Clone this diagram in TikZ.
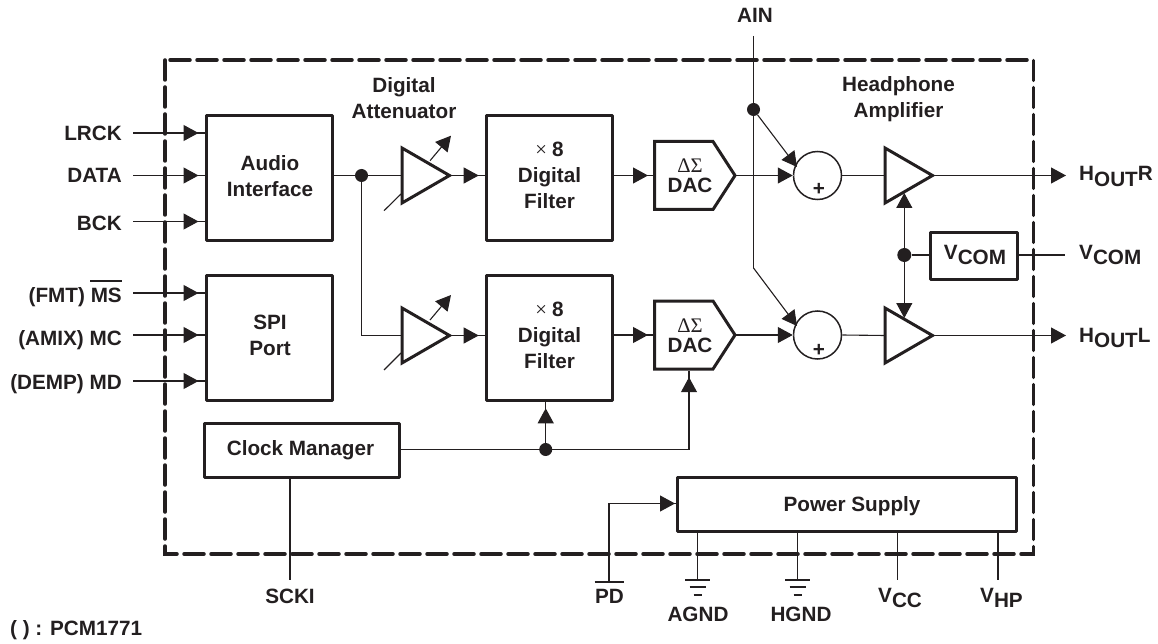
\documentclass[tikz,border=0pt]{standalone}
\usepackage{fontspec}
\setmainfont{Liberation Sans}
\newfontfamily\serifgr{Liberation Serif}
\usetikzlibrary{arrows.meta,shapes.geometric,calc}
\definecolor{ink}{HTML}{231F20}
\newcommand\ovl[1]{\begingroup\setbox0\hbox{#1}\rlap{\kern-0.5pt\rule[19.7pt]{\dimexpr\wd0+1pt\relax}{2.6pt}}\box0\endgroup}
\newcommand\lowr[1]{\raisebox{-5.5pt}{#1}}
\newcommand\sergr[1]{{\serifgr\mdseries #1}}
\tikzset{
  x=1pt,y=-1pt,
  every node/.style={font=\fontsize{20.7}{26}\selectfont\bfseries,text=ink,inner sep=0pt},
  txt/.style={align=center},
  lbl/.style={anchor=base},
  inlbl/.style={anchor=base east},
  outlbl/.style={anchor=base west},
  thin line/.style={draw=ink,line width=1.1pt},
  tipstyle/.style={-{Triangle[length=15pt,width=16pt]}},
  sig/.style={thin line,tipstyle},
  sigstop/.style={thin line,tipstyle,shorten >=6.5pt},
  block/.style={draw=ink,line width=3pt,rectangle,line join=round},
  ampline/.style={draw=ink,line width=3pt,line join=miter},
  summer/.style={draw=ink,line width=1.5pt,circle,minimum size=48pt},
  dot/.style={fill=ink,circle,minimum size=13pt},
  gnd/.style={draw=ink,line width=1.1pt},
}
\newcommand\conn[2]{\draw[thin line] #1 -- #2; \draw[sigstop] #1 -- #2;}
% amplifier: name, left x, centre y
\newcommand\amp[3]{%
  \coordinate (#1-in) at (#2,#3);
  \coordinate (#1-tip) at (#2+47.5,#3);
  \draw[ampline] (#2,#3-27.5) -- (#1-tip) -- (#2,#3+27.5) -- cycle;}
% dac: name, centre y
\newcommand\dac[2]{%
  \coordinate (#1-in) at (654.5,#2);
  \coordinate (#1-tip) at (735,#2);
  \draw[ampline] (654.5,#2-34) -- (713,#2-34) -- (#1-tip) -- (713,#2+34) -- (654.5,#2+34) -- cycle;
  \node[txt] (#1) at (690,#2+0.5) {\sergr{\char"0394\char"03A3}\\[-6pt]DAC};}
\begin{document}
\begin{tikzpicture}
\useasboundingbox (0,0) rectangle (1158,644);
% frame
\draw[ink,line width=3.5pt,dash pattern=on 20pt off 7pt,line cap=round] (165,60) rectangle (1033.5,554);
% blocks
\node[block,minimum width=126pt,minimum height=125pt] (audio) at (269.5,178.2) {};
\node[block,minimum width=126pt,minimum height=125pt] (spi) at (269.5,338) {};
\node[block,minimum width=194.5pt,minimum height=54pt] (clock) at (302,450.3) {};
\node[block,minimum width=126pt,minimum height=125pt] (f1) at (549.7,178.5) {};
\node[block,minimum width=126pt,minimum height=125pt] (f2) at (549.7,337.8) {};
\node[block,minimum width=87pt,minimum height=47pt] (vcom) at (974,255.7) {};
\node[block,minimum width=339pt,minimum height=54pt] (ps) at (847,504.5) {};
% block texts
\node[txt] (audiot) at (270,176) {Audio\\Interface};
\node[txt] (spit) at (270,335) {SPI\\Port};
\node[txt] (clockt) at (300.5,450) {Clock Manager};
\node[txt] (f1t) at (549.5,175.5) {\sergr{\char"00D7}\hspace{5pt}8\\Digital\\Filter};
\node[txt] (f2t) at (549.5,335.5) {\sergr{\char"00D7}\hspace{5pt}8\\Digital\\Filter};
\node[lbl] (vcomt) at (975,259) {V\lowr{COM}};
\node[lbl] (pst) at (852,511.5) {Power Supply};
% amplifiers, converters, summers
\amp{a1}{402}{175.5}
\amp{a2}{402}{335.5}
\amp{h1}{885}{175.5}
\amp{h2}{885}{335.5}
\dac{d1}{175.5}
\dac{d2}{335}
\node[summer] (s1) at (817.5,175.5) {};
\node[summer] (s2) at (817.5,335) {};
\node[lbl] (p1) at (819,196) {+};
\node[lbl] (p2) at (819,356) {+};
% headings
\node[txt] (da) at (404,98) {Digital\\Attenuator};
\node[txt] (ha) at (898.5,99.5) {Headphone\\Amplifier};
% input labels
\node[inlbl] (lrck) at (122,141) {LRCK};
\node[inlbl] (data) at (122,183) {DATA};
\node[inlbl] (bck) at (122,230.5) {BCK};
\node[inlbl] (fmt) at (122,302) {(FMT) \ovl{MS}};
\node[inlbl] (amix) at (122,345) {(AMIX) MC};
\node[inlbl] (demp) at (122,389) {(DEMP) MD};
\coordinate (l1) at (133,133);\coordinate (l2) at (133,175.5);\coordinate (l3) at (133,221.5);
\coordinate (l4) at (133,293);\coordinate (l5) at (133,335);\coordinate (l6) at (133,381);
\conn{(l1)}{(audio.west|-l1)}
\conn{(l2)}{(audio.west|-l2)}
\conn{(l3)}{(audio.west|-l3)}
\conn{(l4)}{(spi.west|-l4)}
\conn{(l5)}{(spi.west|-l5)}
\conn{(l6)}{(spi.west|-l6)}
% signal path
\node[dot] (j1) at (361.5,175.5) {};
\draw[thin line] (audio.east|-j1) -- (a1-in);
\draw[thin line] (j1) |- (a2-in);
\conn{(a1-tip)}{(f1.west|-a1-tip)}
\conn{(a2-tip)}{(f2.west|-a2-tip)}
\conn{(f1.east|-d1-in)}{(d1-in)}
\conn{(f2.east|-d2-in)}{(d2-in)}
\draw[thin line] (s1.east) -- (h1-in);
\draw[thin line] (s2.east) -- (h2-in);
% gain arrows
\coordinate (g1a) at (384,210.7);\coordinate (g1b) at (451,135.7);\coordinate (g1c) at (430,160.7);\coordinate (g1d) at (401,194);
\coordinate (g2a) at (384,370);\coordinate (g2b) at (451,295);\coordinate (g2c) at (430,320);\coordinate (g2d) at (401,353);
\draw[thin line] (g1a) -- (g1d);
\draw[sig] (g1c) -- (g1b);
\draw[thin line] (g2a) -- (g2d);
\draw[sig] (g2c) -- (g2b);
% AIN
\node[lbl] (ain) at (755,22.7) {AIN};
\node[dot] (j2) at (753.5,109.5) {};
\coordinate (j0) at (753.5,36);
\coordinate (j3) at (753.5,268);
\coordinate (t1) at (797,167);
\coordinate (t2) at (797,326);
\draw[thin line] (j0) -- (j3);
\draw[sig] (j2) -- (t1);
\draw[sig] (j3) -- (t2);
\draw[draw=white,line width=1.1pt,-{Triangle[length=18pt,width=20pt,color=white]}] (d1-tip) -- ($(s1.west)+(1,0)$);
\draw[draw=white,line width=1.1pt,-{Triangle[length=18pt,width=20pt,color=white]}] (d2-tip) -- ($(s2.west)+(1,0)$);
\draw[sig] (d1-tip) -- (s1.west);
\draw[sig] (d2-tip) -- (s2.west);
% outputs
\node[outlbl] (hr) at (1079,181) {H\lowr{OUT}R};
\node[outlbl] (hl) at (1079,342) {H\lowr{OUT}L};
\coordinate (o1) at (1066,175.5);\coordinate (o2) at (1066,335.5);
\draw[sig] (h1-tip) -- (o1);
\draw[sig] (h2-tip) -- (o2);
% VCOM
\node[dot,minimum size=14pt] (j4) at (904.3,255) {};
\node[outlbl] (vc) at (1079,259) {V\lowr{COM}};
\coordinate (vo) at (1065,255);
\coordinate (u1) at (904.3,193);\coordinate (u2) at (904.3,318);
\draw[thin line] (j4) -- (vcom.west|-j4);
\draw[thin line] (vcom.east|-j4) -- (vo);
\draw[sig] (j4) -- (u1);
\draw[sig] (j4) -- (u2);
% clock
\node[dot] (j5) at (545.7,449.5) {};
\coordinate (c1) at (689,449.5);
\coordinate (c2) at (689,370.7);
\draw[thin line] (clock.east|-j5) -- (c1);
\conn{(c1)}{(c2)}
\conn{(j5)}{(f2.south-|j5)}
\node[lbl] (scki) at (290,603) {SCKI};
\coordinate (sk) at (290,580);
\draw[thin line] (clock.south-|sk) -- (sk);
% bottom
\node[lbl] (pd) at (609.5,603) {\ovl{PD}};
\coordinate (pd0) at (609,582);\coordinate (pd1) at (609,503.5);
\draw[thin line] (pd0) -- (pd1) -- (ps.west|-pd1);
\draw[sigstop,shorten >=1pt] (pd1) -- (ps.west|-pd1);
\node[lbl] (agnd) at (698,621) {AGND};
\node[lbl] (hgnd) at (801,621) {HGND};
\node[outlbl] (vcc) at (878,602) {V\lowr{CC}};
\node[outlbl] (vhp) at (980,602) {V\lowr{HP}};
\foreach \x in {697.7,797.7,897.5,998}{
  \coordinate (pw) at (\x,580);
  \draw[thin line] (ps.south-|pw) -- (pw);
}
\foreach \g in {697.7,797.7}{
 \draw[gnd] (\g-12.5,580) -- (\g+12.5,580);
 \draw[gnd] (\g-8,587) -- (\g+8,587);
 \draw[gnd] (\g-4,595) -- (\g+4,595);
}
\node[anchor=base west] (note) at (10,635) {( ) : PCM1771};
\end{tikzpicture}
\end{document}
